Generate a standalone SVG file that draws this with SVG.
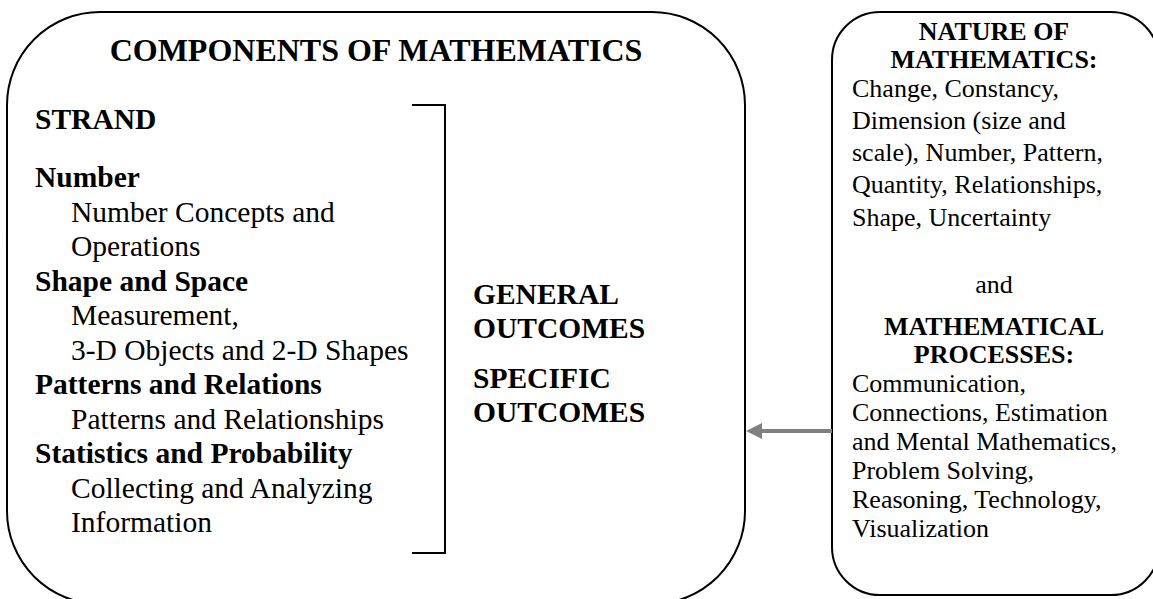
<svg xmlns="http://www.w3.org/2000/svg" width="1153" height="599" viewBox="0 0 1153 599">
<defs>
<style>
.box{fill:#fff;stroke:#000;stroke-width:2}
.t{font-family:"Liberation Serif","Times New Roman",serif;fill:#000}
.l{font-size:29.5px}
.b{font-weight:bold}
.r{font-size:26px}
.c{text-anchor:middle}
.br{fill:none;stroke:#000;stroke-width:2}
.ar{fill:none;stroke:#808080;stroke-width:4}
</style>
<marker id="ah" viewBox="0 0 16 16" refX="0" refY="8" markerWidth="16" markerHeight="16" markerUnits="userSpaceOnUse" orient="auto">
<path d="M0,0 L16,8 L0,16 Z" fill="#808080"/>
</marker>
</defs>
<rect width="1153" height="599" fill="#fff"/>
<g id="components">
<rect class="box" x="7" y="12" width="738" height="592" rx="93" ry="93"/>
<text class="t b c" x="376" y="61" font-size="32">COMPONENTS OF MATHEMATICS</text>
<text class="t l b" x="35" y="129">STRAND</text>
<text class="t l b" x="35" y="187">Number</text>
<text class="t l" x="71" y="221.5">Number Concepts and</text>
<text class="t l" x="71" y="256">Operations</text>
<text class="t l b" x="35" y="290.5">Shape and Space</text>
<text class="t l" x="71" y="325">Measurement,</text>
<text class="t l" x="71" y="359.5">3-D Objects and 2-D Shapes</text>
<text class="t l b" x="35" y="394">Patterns and Relations</text>
<text class="t l" x="71" y="428.5">Patterns and Relationships</text>
<text class="t l b" x="35" y="463">Statistics and Probability</text>
<text class="t l" x="71" y="497.5">Collecting and Analyzing</text>
<text class="t l" x="71" y="532">Information</text>
<path class="br" d="M412,105 H445 V553 H412"/>
<text class="t l b" x="473" y="304">GENERAL</text>
<text class="t l b" x="473" y="338">OUTCOMES</text>
<text class="t l b" x="473" y="388">SPECIFIC</text>
<text class="t l b" x="473" y="422">OUTCOMES</text>
</g>
<g id="nature">
<rect class="box" x="832" y="12" width="327" height="583" rx="48" ry="48"/>
<text class="t r b c" x="994" y="40">NATURE OF</text>
<text class="t r b c" x="994" y="68">MATHEMATICS:</text>
<text class="t r" x="852" y="97">Change, Constancy,</text>
<text class="t r" x="852" y="129">Dimension (size and</text>
<text class="t r" x="852" y="161">scale), Number, Pattern,</text>
<text class="t r" x="852" y="193">Quantity, Relationships,</text>
<text class="t r" x="852" y="226">Shape, Uncertainty</text>
<text class="t r c" x="994" y="293">and</text>
<text class="t r b c" x="994" y="335">MATHEMATICAL</text>
<text class="t r b c" x="994" y="363">PROCESSES:</text>
<text class="t r" x="852" y="392">Communication,</text>
<text class="t r" x="852" y="421">Connections, Estimation</text>
<text class="t r" x="852" y="450">and Mental Mathematics,</text>
<text class="t r" x="852" y="479">Problem Solving,</text>
<text class="t r" x="852" y="508">Reasoning, Technology,</text>
<text class="t r" x="852" y="537">Visualization</text>
</g>
<g id="connectors">
<path class="ar" d="M832,431 H762" marker-end="url(#ah)"/>
</g>
</svg>
